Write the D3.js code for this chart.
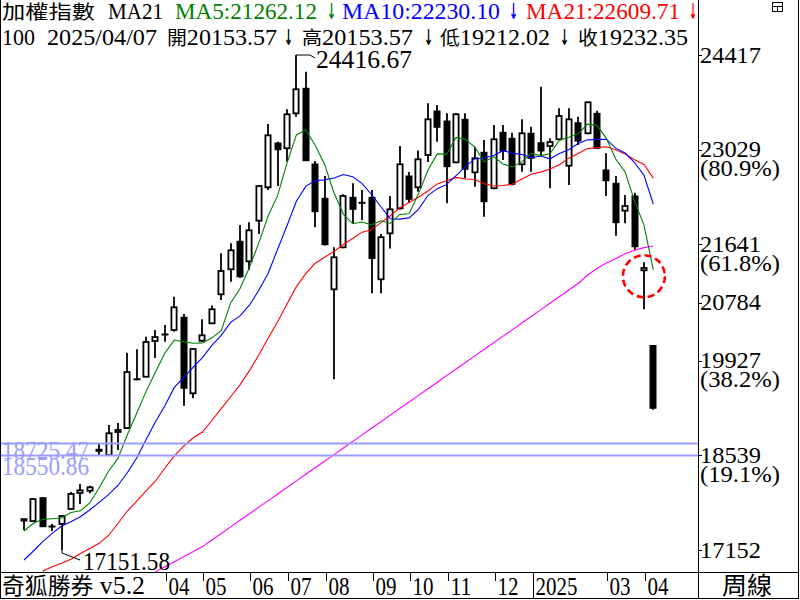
<!DOCTYPE html>
<html><head><meta charset="utf-8">
<script src="https://cdn.jsdelivr.net/npm/d3@7"></script>
<style>
body{margin:0;background:#fff}
svg{display:block}
</style>
</head><body>
<svg id="c" width="800" height="600"></svg>
<script>
// ---------------- data ----------------
const dates = ["2023/12/18","2023/12/25","2024/01/01","2024/01/08","2024/01/15","2024/01/22","2024/01/29","2024/02/05","2024/02/12","2024/02/19",
"2024/02/26","2024/03/04","2024/03/11","2024/03/18","2024/03/25","2024/04/01","2024/04/08","2024/04/15","2024/04/22","2024/04/29",
"2024/05/06","2024/05/13","2024/05/20","2024/05/27","2024/06/03","2024/06/10","2024/06/17","2024/06/24","2024/07/01","2024/07/08",
"2024/07/15","2024/07/22","2024/07/29","2024/08/05","2024/08/12","2024/08/19","2024/08/26","2024/09/02","2024/09/09","2024/09/16",
"2024/09/23","2024/09/30","2024/10/07","2024/10/14","2024/10/21","2024/10/28","2024/11/04","2024/11/11","2024/11/18","2024/11/25",
"2024/12/02","2024/12/09","2024/12/16","2024/12/23","2024/12/30","2025/01/06","2025/01/13","2025/01/20","2025/02/03","2025/02/10",
"2025/02/17","2025/02/24","2025/03/03","2025/03/10","2025/03/17","2025/03/24","2025/03/31","2025/04/07"];

const openV = [17611,17577,17920,17504,17534,17754,17989,18022,18630,18546,
18884,18942,19665,19695,20219,20322,20381,20567,19452,20224,
20479,20905,21272,21683,21389,21985,22475,23125,23048,23561,
23928,22817,22314,20978,21595,22328,22255,22328,21125,21800,
22167,22641,22475,22949,23595,23448,22842,23473,22695,22989,
22461,23282,23194,22813,23268,23130,23081,23180,22792,23423,
23268,23561,22729,22534,22132,22348,21257,20153.57];

const highV = [17615,17905,17925,17534,17660,18003,18121,18096,18708,18987,
19016,20048,20100,20282,20381,20454,20870,20616,20110,20538,
20740,21507,21653,21922,21961,22500,23404,23145,23620,24416.67,
24172,22861,22641,21595,22372,22534,22436,22436,21790,22348,
23081,22700,23015,23708,23683,23561,23561,23561,23071,23169,
23390,23390,23277,23473,23365,23952,23194,23635,23635,23511,
23730,23600,22974,22641,22362,22396,21374,20153.57];

const lowV = [17445,17570,17490,17431,17151.58,17750,17827,17984,18546,18540,
18620,18930,19645,19690,19970,20209,20356,19270,19378,20209,
20470,20821,21090,21144,21261,21790,22436,22494,22851,23511,
22860,21888,21620,19657,21580,21947,21995,20919,20919,21577,
22150,22245,22411,22847,23144,22240,22830,22607,22484,22044,
22450,22876,22500,22704,22704,22949,22461,23170,22509,23096,
23253,23040,22348,21765,21947,21555,20685,19212.02];

const closeV = [17577,17900,17494,17490,17651,17974,18028,18072,18600,18865,
18913,19764,19655,20205,20278,20315,20714,19525,20102,20303,
20685,21247,21551,21163,21844,22494,23238,23027,23547,23914,
22866,22117,21633,21448,22348,22152,22245,21430,21743,22152,
22814,22299,22886,23473,23356,22778,23547,22739,22901,22264,
23180,23008,22519,23268,22901,23008,23140,23522,23473,23155,
23723,23048,22572,21956,22201,21603,21291,19232.35];

const ma5 = [17431,17544,17602,17611,17622,17702,17727,17843,18065,18308,
18496,18843,19159,19480,19763,20043,20233,20207,20187,20192,
20266,20372,20778,20990,21298,21660,22058,22353,22830,23244,
23318,23094,22815,22396,22082,21940,21965,21925,21984,21944,
22077,22088,22379,22725,22966,22958,23208,23179,23064,22846,
22926,22818,22774,22848,22975,22941,22967,23168,23209,23260,
23403,23384,23194,22891,22700,22276,21925,21262.12];

const ma10 = [17005,17137,17274,17397,17504,17567,17641,17739,17850,17965,
18099,18285,18501,18773,19035,19270,19538,19683,19834,19977,
20155,20303,20493,20588,20745,20963,21215,21565,21910,22271,
22489,22576,22584,22613,22663,22629,22530,22370,22190,22013,
22008,22026,22152,22354,22455,22518,22648,22779,22895,22906,
22942,23013,22977,22956,22911,22934,22893,22971,23028,23117,
23172,23176,23181,23050,22980,22839,22654,22230.10];

const ma21 = [null,null,16844,16907,16957,17015,17100,17174,17250,17365,
17541,17724,17871,18018,18165,18355,18532,18678,18796,18884,
19053,19228,19401,19576,19784,20014,20265,20503,20764,21017,
21207,21360,21449,21534,21636,21725,21817,21851,21957,22055,
22174,22251,22329,22421,22525,22570,22620,22596,22590,22529,
22494,22501,22520,22598,22667,22698,22745,22806,22903,22971,
23045,23057,23070,23025,22965,22881,22810,22609.71];

const maLong = [null,null,null,null,null,null,null,null,null,null,
null,null,null,null,16833,16907,16979,17052,17125,17202,
17299,17394,17491,17588,17685,17781,17877,17974,18069,18166,
18263,18360,18455,18552,18649,18746,18841,18938,19035,19132,
19229,19324,19421,19518,19615,19712,19808,19904,20001,20098,
20194,20291,20387,20484,20580,20677,20774,20870,20968,21063,
21188,21283,21364,21426,21501,21551,21590,21614];

const yTickValues = [24417,23029,21641,20784,19927,18539,17152];
const yTickPct    = ["","(80.9%)","(61.8%)","","(38.2%)","(19.1%)",""];
const monthTickDates  = ["2024/04/01","2024/04/29","2024/06/03","2024/07/01","2024/07/29","2024/09/02","2024/09/30","2024/10/28","2024/12/02","2024/12/30","2025/03/03","2025/03/31"];
const monthTickLabels = ["04","05","06","07","08","09","10","11","12","2025","03","04"];
const levelValues = [18725.47, 18550.86];
const peakDate = "2024/07/08", peakValue = 24416.67;
const troughDate = "2024/01/15", troughValue = 17151.58;
const markDate = "2025/03/31", markValue = 21170;
const headerCount = "100";

// ---------------- drawing ----------------
const svg = d3.select("#c");
const plotR = 698, plotB = 572.5;
const GREEN = "#008000", BLUE = "#0000ff", RED = "#ff0000", MAG = "#ff00ff", LB = "#9c9cff";
const SERIF = '"Liberation Serif","Times New Roman",serif';
const CJK = '"Noto Sans CJK TC","Noto Sans CJK SC",sans-serif';

const x = d3.scalePoint().domain(dates).range([24, 653.3]);
const y = d3.scaleLinear().domain([17152, 24417]).range([550, 55]);

svg.append("defs").append("clipPath").attr("id","clip")
  .append("rect").attr("x",1).attr("y",0).attr("width",plotR-1).attr("height",plotB);

const cx = d => Math.round(x(d));

const candles = dates.map((d,i)=>({d, o:openV[i], h:highV[i], l:lowV[i], c:closeV[i]}));
const gC = svg.append("g").attr("clip-path","url(#clip)");

// wicks
gC.selectAll("line.wick").data(candles).join("line").attr("class","wick")
  .attr("x1",d=>cx(d.d)).attr("x2",d=>cx(d.d))
  .attr("y1",d=>y(d.h)).attr("y2",d=>y(d.l))
  .attr("stroke","#000").attr("stroke-width",1.8);

// bodies
gC.selectAll("rect.body").data(candles).join("rect").attr("class","body")
  .each(function(d){
    const r = d3.select(this);
    if (d.c >= d.o) {
      const top = y(d.c), bot = y(d.o);
      r.attr("x", cx(d.d)-2.6).attr("width",5.2)
       .attr("y", top).attr("height", Math.max(bot-top, 1))
       .attr("fill","#fff").attr("stroke","#000").attr("stroke-width",1.8);
    } else {
      const top = y(d.o), bot = y(d.c);
      r.attr("x", cx(d.d)-3.5).attr("width",7)
       .attr("y", top - 0.5).attr("height", Math.max(bot-top, 1) + 1)
       .attr("fill","#000");
    }
  });

// moving average lines
const lineGen = d3.line().defined(v=>v!=null).x((v,i)=>x(dates[i])).y(v=>y(v));
[[maLong,MAG],[ma21,RED],[ma10,BLUE],[ma5,GREEN]].forEach(([arr,col])=>{
  gC.append("path").datum(arr).attr("d",lineGen)
    .attr("fill","none").attr("stroke",col).attr("stroke-width",1.1);
});

// level lines
const gL = svg.append("g");
levelValues.forEach((v,i)=>{
  gL.append("line").attr("x1",1).attr("x2",plotR).attr("y1",Math.round(y(v))+0.5).attr("y2",Math.round(y(v))+0.5)
    .attr("stroke",LB).attr("stroke-width",2);
});
levelValues.forEach((v,i)=>{
  gL.append("text").attr("x",2).attr("y",y(v)+(i===0?16:20))
    .attr("fill",LB).style("font-family",SERIF).style("font-size","25px")
    .attr("textLength",87).attr("lengthAdjust","spacingAndGlyphs")
    .text(v.toFixed(2));
});

// dashed circle marker
svg.append("circle").attr("cx",x(markDate)).attr("cy",y(markValue)).attr("r",21)
  .attr("fill","none").attr("stroke",RED).attr("stroke-width",2.6).attr("stroke-dasharray","7,4");

// peak / trough annotations
{
  const px = cx(peakDate), py = y(peakValue);
  svg.append("path").attr("d",`M${px},${py} L${px+14},${py} L${px+19},${py+3}`)
    .attr("fill","none").attr("stroke","#000").attr("stroke-width",1);
  svg.append("text").attr("x",px+20).attr("y",py+13)
    .style("font-family",SERIF).style("font-size","25px")
    .attr("textLength",96).attr("lengthAdjust","spacingAndGlyphs").text(peakValue.toFixed(2));
  const tx = cx(troughDate), ty = y(troughValue);
  svg.append("path").attr("d",`M${tx},${ty} L${tx},${ty+3} L${tx+18},${ty+10}`)
    .attr("fill","none").attr("stroke","#000").attr("stroke-width",1);
  svg.append("text").attr("x",tx+21).attr("y",ty+20)
    .style("font-family",SERIF).style("font-size","25px")
    .attr("textLength",87).attr("lengthAdjust","spacingAndGlyphs").text(troughValue.toFixed(2));
}

// frame
const frame = svg.append("g").attr("stroke","#000").attr("stroke-width",1).attr("shape-rendering","crispEdges");
frame.append("line").attr("x1",0.5).attr("x2",0.5).attr("y1",0).attr("y2",598);
frame.append("line").attr("x1",798.5).attr("x2",798.5).attr("y1",0).attr("y2",598);
frame.append("line").attr("x1",0).attr("x2",799).attr("y1",598.5).attr("y2",598.5);
frame.append("line").attr("x1",0).attr("x2",799).attr("y1",572.5).attr("y2",572.5);
frame.append("line").attr("x1",698.5).attr("x2",698.5).attr("y1",0).attr("y2",598);

// right axis
const gY = svg.append("g");
yTickValues.forEach((v,i)=>{
  const yy = Math.round(y(v))+0.5;
  gY.append("line").attr("x1",698).attr("x2",702).attr("y1",yy).attr("y2",yy)
    .attr("stroke","#000").attr("stroke-width",1).attr("shape-rendering","crispEdges");
  gY.append("text").attr("x",700).attr("y",y(v)+7.5)
    .style("font-family",SERIF).style("font-size","23px")
    .attr("textLength",61).attr("lengthAdjust","spacingAndGlyphs").text(String(v));
  if (yTickPct[i]) {
    gY.append("text").attr("x",700).attr("y",y(v)+26.5)
      .style("font-family",SERIF).style("font-size","23px")
      .attr("textLength",80).attr("lengthAdjust","spacingAndGlyphs").text(yTickPct[i]);
  }
});

// bottom axis
const gX = svg.append("g");
monthTickDates.forEach((d,i)=>{
  const lab = monthTickLabels[i];
  const tx = cx(d) + (lab.length===4 ? 2 : 1) + 0.5;
  gX.append("line").attr("x1",tx).attr("x2",tx)
    .attr("y1",573).attr("y2", lab.length===4 ? 598 : 581)
    .attr("stroke","#000").attr("stroke-width",1).attr("shape-rendering","crispEdges");
  gX.append("text").attr("x",tx+2).attr("y",595)
    .style("font-family",SERIF).style("font-size","26px")
    .attr("textLength", lab.length===4 ? 42 : 21).attr("lengthAdjust","spacingAndGlyphs").text(lab);
});

// mixed-script text helper
function addText(str, xx, yb, o){
  const t = svg.append("text").attr("x",xx).attr("y",yb).attr("fill",o.color||"#000");
  const runs = str.match(/[\u3400-\u9fff]+|[\u2190-\u21ff]+|[^\u3400-\u9fff\u2190-\u21ff]+/g);
  runs.forEach(r=>{
    const isCJK = /[\u3400-\u9fff]/.test(r);
    const isArrow = /[\u2190-\u21ff]/.test(r);
    t.append("tspan").text(r)
      .style("font-family", isCJK ? CJK : (isArrow ? '"DejaVu Sans",sans-serif' : SERIF))
      .style("font-weight", isArrow ? "bold" : "normal")
      .style("font-size", (isCJK ? o.cjk : (isArrow ? o.arrow || o.size : o.size)) + "px");
  });
  if (o.w) t.attr("textLength",o.w).attr("lengthAdjust","spacingAndGlyphs");
  return t;
}

// bottom-left product name and bottom-right period
addText("奇狐勝券 v5.2", 2, 594, {size:26, cjk:23, w:143});
addText("周線", 722, 594, {size:26, cjk:24, w:50});

// header
const f2 = v => v.toFixed(2);
const last = openV.length - 1;
const row1 = [
  {t:"加權指數", x:2, w:93},
  {t:"MA21", x:108, w:55},
  {t:"MA5:" + f2(ma5[last]), x:175, w:142, c:GREEN},
  {t:"↓", x:327, w:9, c:GREEN},
  {t:"MA10:" + f2(ma10[last]), x:342, w:158, c:BLUE},
  {t:"↓", x:509, w:9, c:BLUE},
  {t:"MA21:" + f2(ma21[last]), x:526, w:154, c:RED},
  {t:"↓", x:689, w:8, c:RED}
];
const row2 = [
  {t:headerCount, x:2, w:33},
  {t:dates[last], x:47, w:110},
  {t:"開" + f2(openV[last]), x:167, w:110},
  {t:"↓", x:284, w:9},
  {t:"高" + f2(highV[last]), x:302, w:111},
  {t:"↓", x:424, w:9},
  {t:"低" + f2(lowV[last]), x:440, w:110},
  {t:"↓", x:560, w:9},
  {t:"收" + f2(closeV[last]), x:578, w:110}
];
row1.forEach(s=>addText(s.t, s.x, 18.5, {size:23, cjk:19, arrow:22, w:s.w, color:s.c}));
row2.forEach(s=>addText(s.t, s.x, 45, {size:23, cjk:19, arrow:22, w:s.w, color:s.c}));

// top-right small window icon
const ic = svg.append("g").attr("stroke","#000").attr("stroke-width",1).attr("fill","none").attr("shape-rendering","crispEdges");
ic.append("rect").attr("x",772.5).attr("y",2.5).attr("width",10).attr("height",9);
ic.append("line").attr("x1",772.5).attr("x2",782.5).attr("y1",6.5).attr("y2",6.5);
ic.append("line").attr("x1",777.5).attr("x2",777.5).attr("y1",6.5).attr("y2",11.5);
</script>
</body></html>
